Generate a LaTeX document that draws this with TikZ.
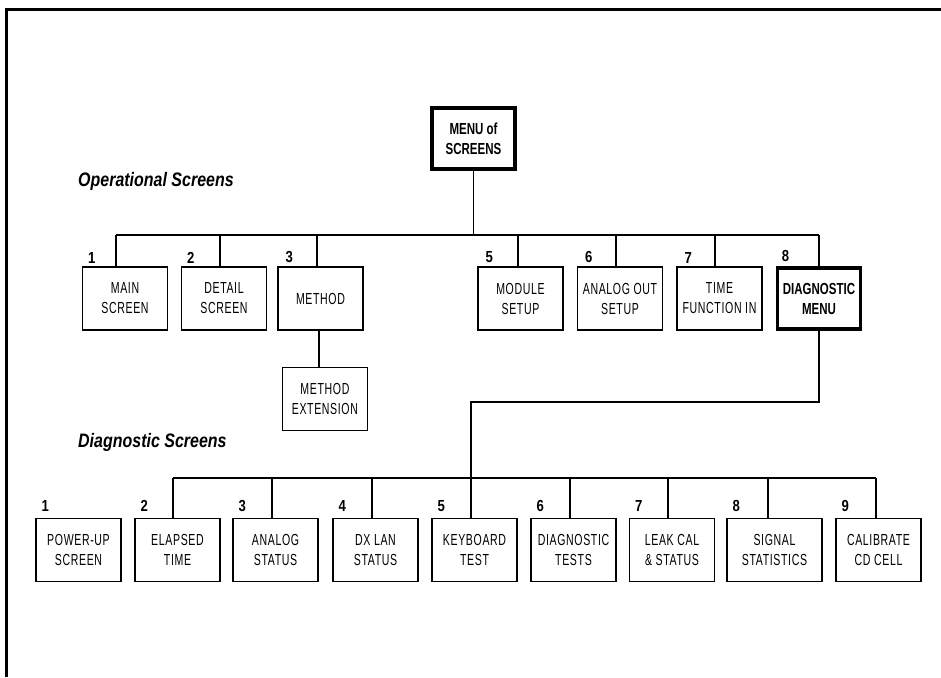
\documentclass[tikz,border=0pt]{standalone}
\usepackage{fontspec}
\setmainfont[FakeStretch=0.82]{Liberation Sans}
\newfontfamily\boxfont[FakeStretch=0.66, LetterSpace=4]{Liberation Sans}
\newfontfamily\menufont[FakeStretch=0.72]{Liberation Sans}
\usetikzlibrary{positioning}

\tikzset{
  screen/.style={draw, line width=1.4pt, minimum width=85pt, minimum height=63pt,
    inner sep=0pt, align=center, font=\boxfont\fontsize{16}{20}\selectfont},
  menubox/.style={screen, line width=3.5pt, minimum width=83pt, minimum height=61pt,
    font=\menufont\fontsize{16}{20}\selectfont\bfseries},
  num/.style={inner sep=0pt, font=\fontsize{16}{16}\selectfont\bfseries},
  heading/.style={anchor=west, inner sep=0pt, font=\fontsize{19.5}{19.5}\selectfont\bfseries\itshape},
  wire/.style={line width=1.2pt},
}

\begin{document}
\begin{tikzpicture}[x=1pt, y=-1pt]

\useasboundingbox (0,0) rectangle (941,677);

% ======================================
% FRAME
% ======================================
\draw[line width=3pt] (6,677) -- (6,10) -- (941,10);

% ======================================
% THE MENU NODE
% ======================================
\node[menubox] (menu) at (473.5,138.5) {MENU of\\SCREENS};

% ======================================
% OPERATIONAL SCREENS
% ======================================
\node[heading] (ophead) at (78,181) {Operational Screens};

\node[screen] (main) at (125,298.5) {MAIN\\SCREEN};
\node[screen] (detail) at (224,298.5) {DETAIL\\SCREEN};
\node[screen] (method) at (320.5,298.5) {METHOD};
\node[screen] (module) at (520.5,298.5) {MODULE\\SETUP};
\node[screen] (analog) at (620,298.5) {ANALOG OUT\\SETUP};
\node[screen] (timefn) at (719.5,298.5) {TIME\\FUNCTION IN};
\node[menubox] (dmenu) at (819,298.5) {DIAGNOSTIC\\MENU};

\node[num, above right=3pt and 6pt of main.north west] (o1n) {1};
\node[num, above right=3pt and 6pt of detail.north west] (o2n) {2};
\node[num, above right=3pt and 8pt of method.north west] (o3n) {3};
\node[num, above right=3pt and 8pt of module.north west] (o5n) {5};
\node[num, above right=3pt and 8pt of analog.north west] (o6n) {6};
\node[num, above right=3pt and 8pt of timefn.north west] (o7n) {7};
\node[num, above right=4.5pt and 6pt of dmenu.north west] (o8n) {8};

\coordinate (o1) at (116,235);
\coordinate (o2) at (220,235);
\coordinate (o3) at (317,235);
\coordinate (o5) at (518,235);
\coordinate (o6) at (616,235);
\coordinate (o7) at (715,235);
\coordinate (o8) at (819,235);

\draw[wire] (menu.south) -- (menu.south |- o1);
\draw[wire] (o1) -- (o8);
\draw[wire] (o1) -- (o1 |- main.north);
\draw[wire] (o2) -- (o2 |- detail.north);
\draw[wire] (o3) -- (o3 |- method.north);
\draw[wire] (o5) -- (o5 |- module.north);
\draw[wire] (o6) -- (o6 |- analog.north);
\draw[wire] (o7) -- (o7 |- timefn.north);
\draw[wire] (o8) -- (dmenu.north);

\node[screen, below right=36pt and -82pt of method.south east] (methext) {METHOD\\EXTENSION};
\draw[wire] (methext.north -| 319,0) -- (method.south -| 319,0);

% ======================================
% DIAGNOSTIC SCREENS
% ======================================
\node[heading] (dghead) at (78,442) {Diagnostic Screens};

\node[screen] (d1) at (78.5,550) {POWER-UP\\SCREEN};
\node[screen] (d2) at (177.5,550) {ELAPSED\\TIME};
\node[screen] (d3) at (275.5,550) {ANALOG\\STATUS};
\node[screen] (d4) at (375.5,550) {DX LAN\\STATUS};
\node[screen] (d5) at (474.5,550) {KEYBOARD\\TEST};
\node[screen] (d6) at (573.5,550) {DIAGNOSTIC\\TESTS};
\node[screen] (d7) at (672,550) {LEAK CAL\\\& STATUS};
\node[screen, minimum width=95pt] (d8) at (774.5,550) {SIGNAL\\STATISTICS};
\node[screen] (d9) at (878.5,550) {CALIBRATE\\CD CELL};

\node[num, above right=6pt and 6pt of d1.north west] (d1n) {1};
\node[num, above right=6pt and 6pt of d2.north west] (d2n) {2};
\node[num, above right=6pt and 6pt of d3.north west] (d3n) {3};
\node[num, above right=6pt and 6pt of d4.north west] (d4n) {4};
\node[num, above right=6pt and 6pt of d5.north west] (d5n) {5};
\node[num, above right=6pt and 6pt of d6.north west] (d6n) {6};
\node[num, above right=6pt and 6pt of d7.north west] (d7n) {7};
\node[num, above right=6pt and 6pt of d8.north west] (d8n) {8};
\node[num, above right=6pt and 6pt of d9.north west] (d9n) {9};

\coordinate (jog) at (471,402);
\coordinate (c2) at (173,478);
\coordinate (c3) at (272,478);
\coordinate (c4) at (372,478);
\coordinate (c5) at (471,478);
\coordinate (c6) at (570,478);
\coordinate (c7) at (668,478);
\coordinate (c8) at (768,478);
\coordinate (c9) at (876,478);

\draw[wire] (dmenu.south) |- (jog) -- (c5);
\draw[wire] (c2) -- (c9);
\draw[wire] (c2) -- (c2 |- d2.north);
\draw[wire] (c3) -- (c3 |- d3.north);
\draw[wire] (c4) -- (c4 |- d4.north);
\draw[wire] (c5) -- (c5 |- d5.north);
\draw[wire] (c6) -- (c6 |- d6.north);
\draw[wire] (c7) -- (c7 |- d7.north);
\draw[wire] (c8) -- (c8 |- d8.north);
\draw[wire] (c9) -- (c9 |- d9.north);

\end{tikzpicture}
\end{document}
